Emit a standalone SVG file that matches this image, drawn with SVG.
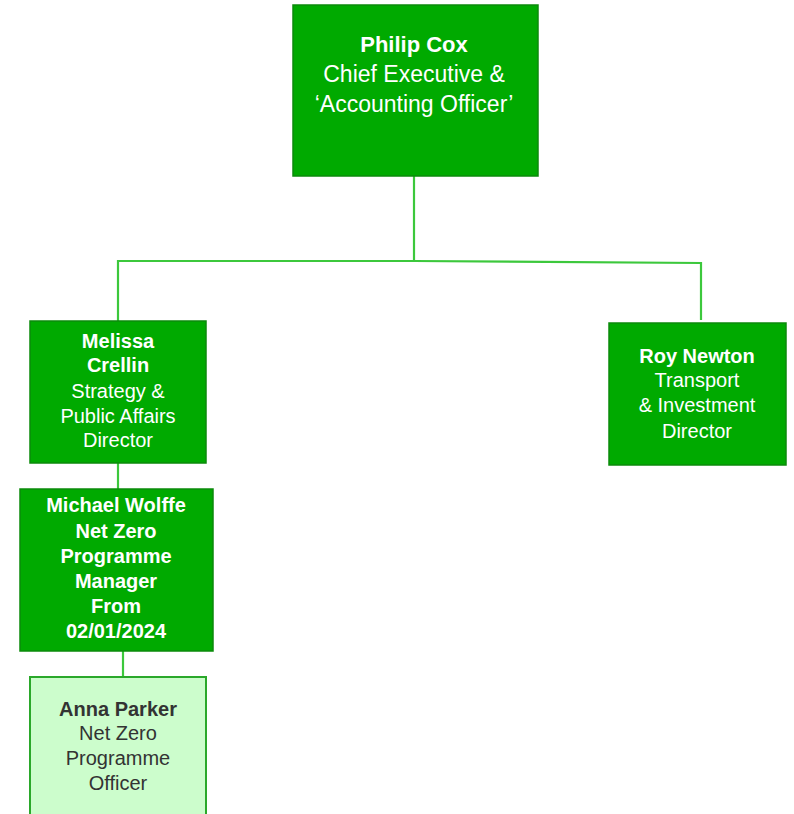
<svg xmlns="http://www.w3.org/2000/svg" width="794" height="814" viewBox="0 0 794 814">
<style>
.box{fill:#00aa00;stroke:#0b8a0b;stroke-width:1.5}
.lite{fill:#ccfdcc;stroke:#2aa82a;stroke-width:2}
.t{font-family:"Liberation Sans",Arial,sans-serif;font-size:20px;fill:#ffffff;text-anchor:middle}
.big{font-size:23px}
.dark{fill:#333333}
.b{font-weight:bold}
.c{fill:none;stroke:#3cc83c;stroke-width:2.2}
</style>
<rect width="794" height="814" fill="#ffffff"/>
<g id="connectors">
<path class="c" d="M414 176V261"/>
<path class="c" d="M118 321V261H414L701 263V320"/>
<path class="c" d="M118 463V489"/>
<path class="c" d="M123 651V677"/>
</g>
<g id="philip">
<rect class="box" x="293" y="5" width="245" height="171"/>
<text class="t big b" x="414" y="52" style="font-size:22px">Philip Cox</text>
<text class="t big" x="414" y="82">Chief Executive &amp;</text>
<text class="t big" x="414" y="112">‘Accounting Officer’</text>
</g>
<g id="melissa">
<rect class="box" x="30" y="321" width="176" height="142"/>
<text class="t b" x="118" y="348">Melissa</text>
<text class="t b" x="118" y="372">Crellin</text>
<text class="t" x="118" y="398">Strategy &amp;</text>
<text class="t" x="118" y="423">Public Affairs</text>
<text class="t" x="118" y="447">Director</text>
</g>
<g id="roy">
<rect class="box" x="609" y="323" width="177" height="142"/>
<text class="t b" x="697" y="363">Roy Newton</text>
<text class="t" x="697" y="387">Transport</text>
<text class="t" x="697" y="412">&amp; Investment</text>
<text class="t" x="697" y="438">Director</text>
</g>
<g id="michael">
<rect class="box" x="20" y="489" width="193" height="162"/>
<text class="t b" x="116" y="512">Michael Wolffe</text>
<text class="t b" x="116" y="538">Net Zero</text>
<text class="t b" x="116" y="563">Programme</text>
<text class="t b" x="116" y="588">Manager</text>
<text class="t b" x="116" y="613">From</text>
<text class="t b" x="116" y="638">02/01/2024</text>
</g>
<g id="anna">
<rect class="lite" x="30" y="677" width="176" height="145"/>
<text class="t b dark" x="118" y="716">Anna Parker</text>
<text class="t dark" x="118" y="740">Net Zero</text>
<text class="t dark" x="118" y="765">Programme</text>
<text class="t dark" x="118" y="790">Officer</text>
</g>
</svg>
